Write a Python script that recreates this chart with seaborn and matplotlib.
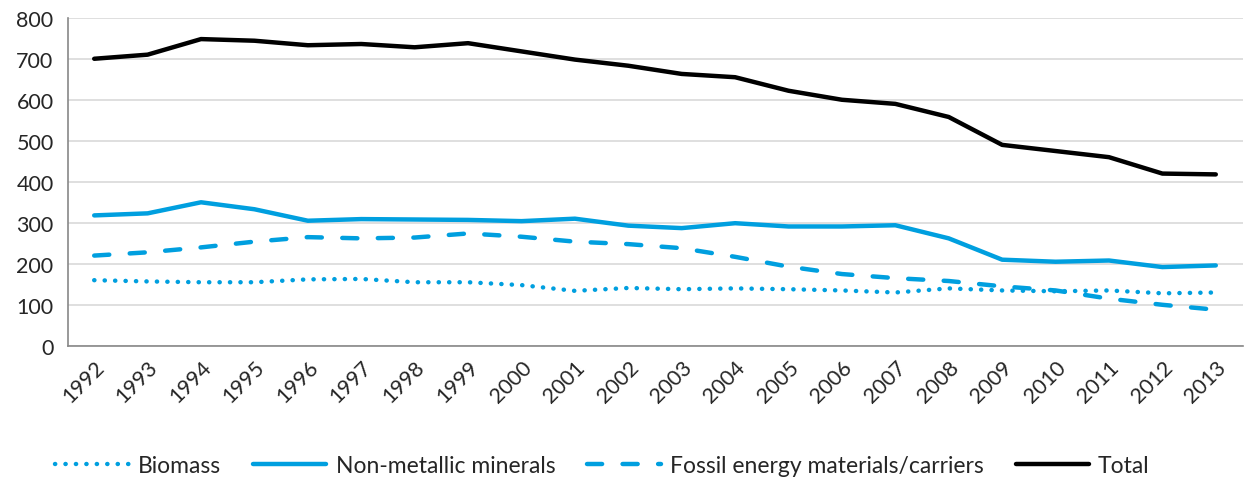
import matplotlib

matplotlib.use("Agg")
import matplotlib.pyplot as plt  # noqa: E402
import seaborn as sns  # noqa: E402
import numpy as np  # noqa: E402
from matplotlib.ticker import FixedLocator, MultipleLocator  # noqa: E402

years = list(range(1992, 2014))
biomass = [160, 157, 155, 155, 162, 163, 155, 155, 148, 134, 141, 138, 140, 138, 135, 130, 140, 135, 133, 135, 128, 130]
non_metallic = [318, 323, 350, 333, 305, 309, 308, 307, 304, 310, 293, 287, 299, 291, 291, 294, 262, 210, 205, 208, 192, 196]
fossil = [220, 228, 240, 254, 265, 262, 264, 274, 266, 254, 248, 238, 217, 193, 175, 165, 158, 145, 135, 115, 100, 88]
total = [700, 710, 748, 744, 733, 736, 728, 738, 718, 698, 683, 663, 655, 622, 600, 590, 558, 490, 475, 460, 420, 418]

BLUE = "#009FDF"

sns.set_style("white")
plt.rcParams["font.family"] = ["Lato", "DejaVu Sans"]

fig = plt.figure(figsize=(12.5, 4.81), dpi=100)
ax = fig.add_axes([0.054, 0.279, 0.94, 0.682])

x = np.arange(len(years))
series = [
    ("Biomass", biomass, BLUE, (0, (0.05, 2.3))),
    ("Non-metallic minerals", non_metallic, BLUE, "-"),
    ("Fossil energy materials/carriers", fossil, BLUE, (0, (3.4, 4.6))),
    ("Total", total, "black", "-"),
]
for name, vals, col, ls in series:
    sns.lineplot(x=x, y=vals, ax=ax, color=col, linewidth=3.2, label=name,
                 linestyle=ls, dash_capstyle="round", solid_capstyle="round")

ax.set_xlim(-0.5, len(years) - 0.5)
ax.set_ylim(0, 800)
ax.yaxis.set_major_locator(MultipleLocator(100))
ax.grid(axis="y", color="#d9d9d9", linewidth=1.2)
ax.set_axisbelow(True)

ax.set_xticks(x)
ax.set_xticklabels([str(y) for y in years], rotation=45, ha="right",
                   rotation_mode="anchor", fontsize=15.5)
ax.xaxis.set_minor_locator(FixedLocator(np.arange(-0.5, len(years), 1.0)))
ax.tick_params(axis="x", which="major", length=0, pad=8)
ax.tick_params(axis="x", which="minor", length=6, color="#888888", width=1, direction="out")
ax.tick_params(axis="y", length=6, color="#888888", width=1, direction="out", labelsize=15.5, pad=4)

for side in ["top", "right"]:
    ax.spines[side].set_visible(False)
for side in ["left", "bottom"]:
    ax.spines[side].set_color("#888888")
    ax.spines[side].set_linewidth(1.2)

handles, labels = ax.get_legend_handles_labels()
ax.legend_.remove()
fig.legend(handles, labels, loc="center", bbox_to_anchor=(0.482, 0.03), ncol=4,
           frameon=False, fontsize=16.5, handlelength=3.2, columnspacing=1.4,
           handletextpad=0.4)

fig.savefig("out.png", dpi=100)
plt.close(fig)
